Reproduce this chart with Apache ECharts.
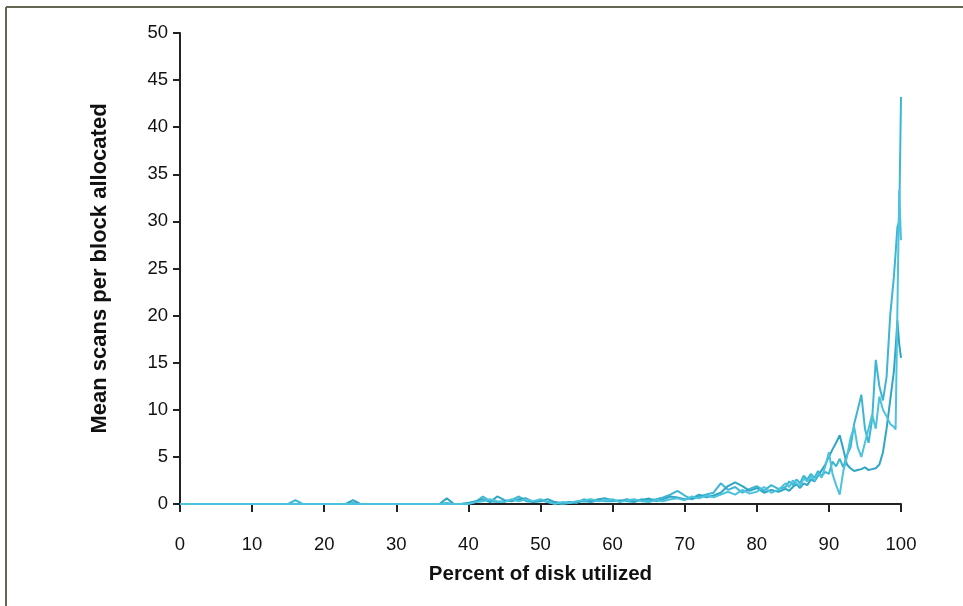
<!DOCTYPE html>
<html>
<head>
<meta charset="utf-8">
<script src="https://cdn.jsdelivr.net/npm/echarts@6/dist/echarts.min.js"></script>
<style>
html,body{margin:0;padding:0;background:#fff;}
#chart{width:963px;height:606px;}
</style>
</head>
<body>
<div id="chart"></div>
<script>
// x positions (percent of disk utilized)
const xs = [
  0,1,2,3,4,5,6,7,8,9,
  10,11,12,13,14,15,16,17,18,19,
  20,21,22,23,24,25,26,27,28,29,
  30,31,32,33,34,35,36,37,38,39,
  40,41,42,43,44,45,46,47,48,49,
  50,51,52,53,54,55,56,57,58,59,
  60,61,62,63,64,65,66,67,68,69,
  70,71,72,73,74,75,76,77,78,79,
  80,81,82,83,84,84.5,85,85.5,86,86.5,
  87,87.5,88,88.5,89,89.5,90,90.5,91,91.5,
  92,92.5,93,93.5,94,94.5,95,95.5,96,96.5,
  97,97.5,98,98.5,99,99.25,99.5,99.75,100
];
// mean scans per block allocated, three runs
const runA = [
  0,0,0,0,0,0,0,0,0,0,
  0,0,0,0,0,0,0.4,0,0,0,
  0,0,0,0,0.1,0,0,0,0,0,
  0,0,0,0,0,0,0,0.1,0,0,
  0.1,0.2,0.8,0.3,0.2,0.3,0.4,0.8,0.3,0.2,
  0.4,0.2,0.1,0,0.1,0.2,0.3,0.2,0.4,0.3,
  0.3,0.4,0.3,0.2,0.5,0.4,0.5,0.7,1.0,1.4,
  0.9,0.5,0.8,1.0,1.2,2.2,1.5,1.8,1.2,1.6,
  1.9,1.4,2.0,1.6,1.8,2.4,2.0,2.6,2.2,3.0,
  2.6,3.2,2.8,3.5,3.0,3.4,3.2,4.5,4.0,4.8,
  3.9,5.2,6.0,8.5,10.0,11.6,8.0,6.5,9.0,15.3,
  12.5,11.0,13.5,20.0,24.0,26.6,29.4,30.0,43.2
];
const runB = [
  0,0,0,0,0,0,0,0,0,0,
  0,0,0,0,0,0,0,0,0,0,
  0,0,0,0,0.4,0,0,0,0,0,
  0,0,0,0,0,0,0,0.6,0,0,
  0.1,0.3,0.5,0.2,0.8,0.4,0.3,0.5,0.6,0.2,
  0.3,0.5,0.2,0.1,0.2,0.1,0.5,0.3,0.5,0.6,
  0.4,0.3,0.5,0.3,0.4,0.6,0.3,0.5,0.8,0.7,
  0.5,0.6,1.0,0.7,0.9,1.2,1.9,2.3,1.9,1.4,
  1.7,1.2,1.5,1.3,1.6,1.4,1.8,2.1,1.7,2.2,
  2.0,2.6,2.4,3.0,3.6,4.2,5.0,5.8,6.5,7.3,
  5.8,4.2,3.8,3.5,3.6,3.7,3.9,3.6,3.7,3.8,
  4.2,5.5,8.0,11.0,14.0,16.5,19.5,17.0,15.5
];
const runC = [
  0,0,0,0,0,0,0,0,0,0,
  0,0,0,0,0,0,0,0,0,0,
  0,0,0,0,0,0,0,0,0,0,
  0,0,0,0,0,0,0,0,0,0,
  0,0.2,0.3,0.5,0.3,0.2,0.5,0.3,0.5,0.3,
  0.5,0.2,0,0.2,0.1,0.3,0.4,0.5,0.3,0.4,
  0.5,0.2,0.4,0.5,0.3,0.2,0.4,0.3,0.5,0.6,
  0.4,0.8,0.6,0.9,0.7,1.0,1.3,1.0,1.5,1.1,
  1.3,1.8,1.2,1.5,2.2,1.8,2.5,2.2,1.9,2.7,
  2.4,2.9,2.5,3.3,2.8,4.0,5.5,3.2,2.0,1.0,
  3.5,5.0,7.0,8.2,6.0,5.0,6.5,8.0,9.5,8.0,
  11.4,10.0,9.3,8.5,8.2,7.9,7.9,33.3,28.0
];
const xTicks = [0,10,20,30,40,50,60,70,80,90,100];
const yTicks = [0,5,10,15,20,25,30,35,40,45,50];
const runs = [runA, runB, runC];
const colors = ['#3cb6d4', '#2ea6c4', '#4cc2dc'];

const chart = echarts.init(document.getElementById('chart'), null, {renderer:'canvas'});
const font = 'Liberation Sans, Arial, Helvetica, sans-serif';
chart.setOption({
  animation: false,
  backgroundColor: '#ffffff',
  grid: {left: 180, right: 62, top: 33, bottom: 102, containLabel: false},
  xAxis: {
    type: 'value', min: xTicks[0], max: xTicks[xTicks.length-1], interval: 10,
    name: 'Percent of disk utilized', nameLocation: 'middle', nameGap: 60,
    nameTextStyle: {fontFamily: font, fontWeight: 'bold', fontSize: 20.5, color: '#111'},
    axisLine: {lineStyle: {color: '#222', width: 2}},
    axisTick: {length: 8, lineStyle: {color: '#222', width: 2}},
    axisLabel: {fontFamily: font, fontSize: 18.5, color: '#111', margin: 31},
    splitLine: {show: false}
  },
  yAxis: {
    type: 'value', min: yTicks[0], max: yTicks[yTicks.length-1], interval: 5,
    name: 'Mean scans per block allocated', nameLocation: 'middle', nameGap: 69,
    nameTextStyle: {fontFamily: font, fontWeight: 'bold', fontSize: 22, color: '#111'},
    axisLine: {show: true, lineStyle: {color: '#222', width: 2}},
    axisTick: {show: true, length: 7, lineStyle: {color: '#222', width: 2}},
    axisLabel: {fontFamily: font, fontSize: 18.5, color: '#111', margin: 12},
    splitLine: {show: false}
  },
  graphic: [
    {type: 'line', shape: {x1: 6, y1: 7, x2: 963, y2: 7}, style: {stroke: '#666655', lineWidth: 2}},
    {type: 'line', shape: {x1: 6, y1: 7, x2: 6, y2: 606}, style: {stroke: '#666655', lineWidth: 2}}
  ],
  series: runs.map((r, i) => ({
    type: 'line',
    data: xs.map((x, j) => [x, r[j]]),
    showSymbol: false,
    lineStyle: {color: colors[i], width: 2},
    z: 3 + i
  }))
});
</script>
</body>
</html>
